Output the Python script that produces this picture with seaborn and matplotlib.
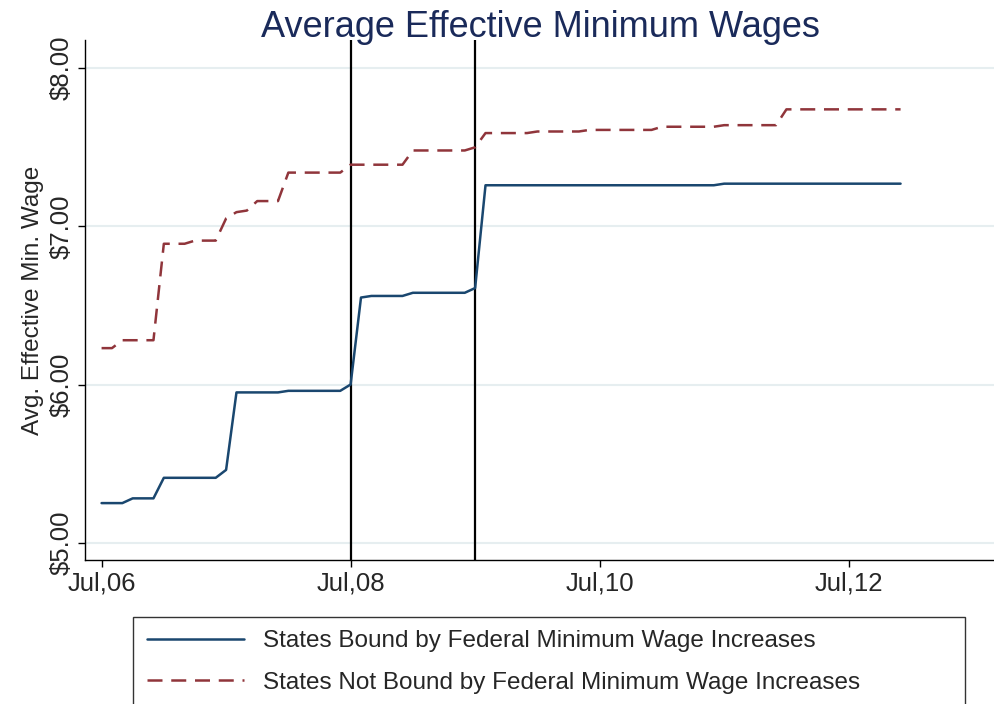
import numpy as np
import pandas as pd
import seaborn as sns
import matplotlib.pyplot as plt

# monthly values, Jul 2006 .. Dec 2012
bound = ([5.25, 5.25, 5.25, 5.28, 5.28, 5.28] +
         [5.41] * 6 + [5.46] + [5.95] * 5 +
         [5.96] * 6 + [6.00, 6.55, 6.56, 6.56, 6.56, 6.56] +
         [6.58] * 6 + [6.61] + [7.26] * 5 +
         [7.26] * 12 +
         [7.26] * 6 + [7.27] * 6 +
         [7.27] * 12)
not_bound = ([6.23, 6.23, 6.28, 6.28, 6.28, 6.28] +
             [6.89, 6.89, 6.89, 6.91, 6.91, 6.91, 7.05, 7.09, 7.10, 7.16, 7.16, 7.16] +
             [7.34] * 6 + [7.39] * 6 +
             [7.48] * 6 + [7.50] + [7.59] * 5 +
             [7.60] * 5 + [7.61] * 7 +
             [7.63] * 6 + [7.64] * 6 +
             [7.74] * 12)
months = np.arange(len(bound))
xtick_pos = [0, 24, 48, 72]
xtick_labels = ['Jul,06', 'Jul,08', 'Jul,10', 'Jul,12']
ytick_vals = [5, 6, 7, 8]
vlines = [24, 36]

df = pd.DataFrame({'month': months, 'bound': bound, 'not_bound': not_bound})

sns.set_style('white')
plt.rcParams['font.family'] = ['Liberation Sans', 'DejaVu Sans']

fig = plt.figure(figsize=(9.95, 7.04), dpi=100)
ax = fig.add_axes([0.0854, 0.2045, 0.9146, 0.739])

for v in ytick_vals:
    ax.axhline(v, color='#e6eef0', lw=1.5, zorder=0)
for v in vlines:
    ax.axvline(v, color='black', lw=1.6, zorder=1)

sns.lineplot(data=df, x='month', y='bound', ax=ax, color='#1a476f', lw=1.8,
             label='States Bound by Federal Minimum Wage Increases', legend=False)
sns.lineplot(data=df, x='month', y='not_bound', ax=ax, color='#90353b', lw=1.8,
             dashes=(6, 3.5), label='States Not Bound by Federal Minimum Wage Increases',
             legend=False)

ax.set_xlim(-1.6, 86.1)
ax.set_ylim(4.89, 8.18)
ax.set_xticks(xtick_pos)
ax.set_xticklabels(xtick_labels, fontsize=18.5)
ax.set_yticks(ytick_vals)
ax.set_yticklabels(['$%.2f' % v for v in ytick_vals], fontsize=18.5, rotation=90, va='center')
ax.tick_params(axis='both', direction='out', length=5, width=1, color='black',
               left=True, bottom=True, pad=3)
ax.set_xlabel('')
ax.set_ylabel('Avg. Effective Min. Wage', fontsize=17.5, labelpad=4)
for s in ['top', 'right']:
    ax.spines[s].set_visible(False)
for s in ['left', 'bottom']:
    ax.spines[s].set_color('black')
    ax.spines[s].set_linewidth(1)
ax.set_title('Average Effective Minimum Wages', fontsize=26, color='#1a2a5a', pad=2)

h, l = ax.get_legend_handles_labels()
leg = fig.legend(h, l, loc='upper left', bbox_to_anchor=(0.134, 0.0, 0.836, 0.124),
                 mode='expand', borderaxespad=0, fontsize=17.5,
                 handlelength=4.0, frameon=True, fancybox=False, edgecolor='black',
                 borderpad=0.55, labelspacing=0.8, handletextpad=0.8)
leg.get_frame().set_linewidth(1)

fig.savefig('out.png', dpi=100)
